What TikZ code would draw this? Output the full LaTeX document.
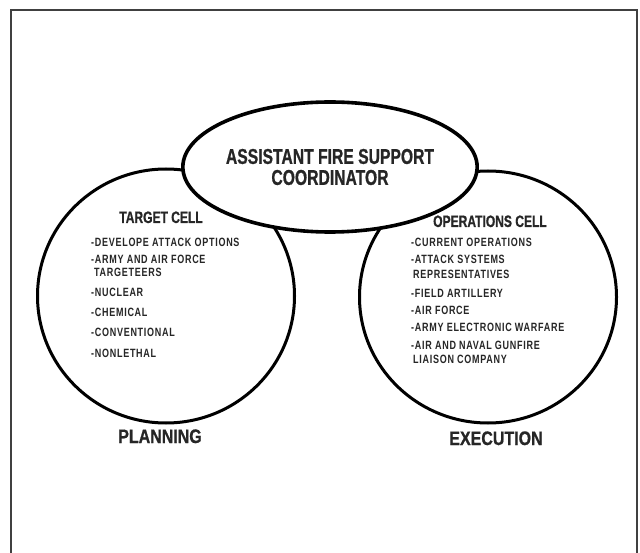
\documentclass[tikz,border=0pt]{standalone}
\usepackage{fontspec}
\usepackage{tikz}
\usetikzlibrary{shapes}
\newfontfamily\headfont{Liberation Sans}[FakeStretch=0.73, FakeBold=0.8]
\newfontfamily\rolefont{Liberation Sans}[FakeStretch=0.82, FakeBold=0.8]
\newfontfamily\listfont{Liberation Sans}[FakeStretch=0.75, LetterSpace=6]

\begin{document}
\begin{tikzpicture}[x=1pt, y=-1pt,
        frame_style/.style={draw=black!75, line width=2.4pt},
        cell_style/.style={ellipse, draw=black, line width=3pt, inner sep=0pt},
        chief_style/.style={ellipse, draw=black, line width=3.6pt, fill=white, inner sep=0pt, align=center, text=black!85, font=\headfont\bfseries\fontsize{21.5}{21}\selectfont},
        title_style/.style={anchor=base, inner sep=0pt, text=black!85, font=\headfont\bfseries\fontsize{16.5}{18}\selectfont},
        item_style/.style={anchor=base west, inner sep=0pt, text=black!85, font=\listfont\bfseries\fontsize{12}{13}\selectfont},
        role_style/.style={anchor=base, inner sep=0pt, text=black!85, font=\rolefont\bfseries\fontsize{19.5}{21}\selectfont}]

        \useasboundingbox (0,0) rectangle (640,553);
        \clip (0,0) rectangle (640,553);
        \fill [white] (0,0) rectangle (640,553);
        \draw [frame_style] (11,10) rectangle (637,600);

        \node [cell_style, minimum width=257pt, minimum height=254pt] (planning_cell) at (166,296) {};

        \node [cell_style, minimum width=257pt, minimum height=252pt] (execution_cell) at (488,297) {};

        \node [chief_style, minimum width=270pt, minimum height=130pt] (afsc) at (330,167) {ASSISTANT FIRE SUPPORT\\COORDINATOR};

        \node [title_style] (target_title) at (161,223) {TARGET CELL};

        \node [title_style] (ops_title) at (490,227) {OPERATIONS CELL};

        \node [role_style] (planning) at (160,443) {PLANNING};

        \node [role_style] (execution) at (496,445) {EXECUTION};

        \foreach \px/\py/\txt [count=\i] in {91/247/-DEVELOPE ATTACK OPTIONS, 91/264/-ARMY AND AIR FORCE, 94/277/TARGETEERS, 91/297/-NUCLEAR, 91/317/-CHEMICAL, 91/337/-CONVENTIONAL, 91/357/-NONLETHAL}
            \node [item_style] (target_item\i) at (\px,\py) {\txt};

        \foreach \px/\py/\txt [count=\i] in {411/247/-CURRENT OPERATIONS, 411/264/-ATTACK SYSTEMS, 413/279/REPRESENTATIVES, 411/298/-FIELD ARTILLERY, 411/315/-AIR FORCE, 411/332/-ARMY ELECTRONIC WARFARE, 411/349/-AIR AND NAVAL GUNFIRE, 413/363/LIAISON COMPANY}
            \node [item_style] (ops_item\i) at (\px,\py) {\txt};

\end{tikzpicture}
\end{document}
